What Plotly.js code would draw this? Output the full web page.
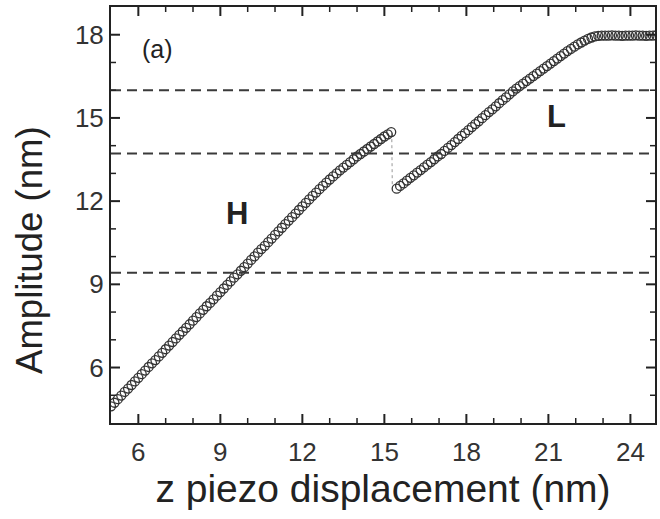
<!DOCTYPE html>
<html>
<head>
<meta charset="utf-8">
<script src="https://cdn.plot.ly/plotly-3.0.1.min.js"></script>
<style>html,body{margin:0;padding:0;background:#fff;}#chart{width:660px;height:519px;}</style>
</head>
<body>
<div id="chart"></div>
<script>
// High-amplitude branch H
var hX = [5.000,5.125,5.250,5.375,5.500,5.625,5.750,5.875,6.000,6.125,6.250,6.375,6.500,6.625,6.750,6.875,
  7.000,7.125,7.250,7.375,7.500,7.625,7.750,7.875,8.000,8.125,8.250,8.375,8.500,8.625,8.750,8.875,
  9.000,9.125,9.250,9.375,9.500,9.625,9.750,9.875,10.000,10.125,10.250,10.375,10.500,10.625,10.750,10.875,
  11.000,11.125,11.250,11.375,11.500,11.625,11.750,11.875,12.000,12.125,12.250,12.375,12.500,12.625,12.750,12.875,
  13.000,13.125,13.250,13.375,13.500,13.625,13.750,13.875,14.000,14.125,14.250,14.375,14.500,14.625,14.750,14.875,
  15.000,15.125,15.250];
var hY = [4.60,4.73,4.86,4.99,5.12,5.24,5.37,5.50,5.63,5.76,5.89,6.02,6.15,6.27,6.40,6.53,
  6.66,6.79,6.92,7.05,7.18,7.30,7.43,7.56,7.69,7.82,7.95,8.08,8.21,8.33,8.46,8.59,
  8.72,8.85,8.98,9.11,9.24,9.36,9.49,9.62,9.75,9.88,10.01,10.14,10.27,10.39,10.52,10.65,
  10.78,10.91,11.04,11.17,11.30,11.42,11.55,11.68,11.81,11.94,12.06,12.19,12.31,12.43,12.55,12.67,
  12.78,12.89,13.00,13.11,13.21,13.31,13.41,13.51,13.61,13.70,13.79,13.88,13.97,14.06,14.15,14.24,
  14.33,14.41,14.49];
// Low-amplitude branch L (incl. saturation plateau)
var lX = [15.450,15.575,15.700,15.825,15.950,16.075,16.200,16.325,16.450,16.575,16.700,16.825,16.950,17.075,17.200,
  17.325,17.450,17.575,17.700,17.825,17.950,18.075,18.200,18.325,18.450,18.575,18.700,18.825,18.950,19.075,19.200,
  19.325,19.450,19.575,19.700,19.825,19.950,20.075,20.200,20.325,20.450,20.575,20.700,20.825,20.950,21.075,21.200,
  21.325,21.450,21.575,21.700,21.825,21.950,22.075,22.200,22.325,22.450,22.575,22.700,22.825,22.950,23.075,23.200,
  23.325,23.450,23.575,23.700,23.825,23.950,24.075,24.200,24.325,24.450,24.575,24.700,24.825,24.950];
var lY = [12.45,12.55,12.64,12.74,12.84,12.93,13.03,13.12,13.22,13.32,13.41,13.51,13.61,13.70,13.81,
  13.92,14.02,14.13,14.24,14.35,14.45,14.56,14.67,14.78,14.88,14.99,15.10,15.21,15.31,15.42,15.53,
  15.64,15.74,15.85,15.96,16.06,16.15,16.24,16.33,16.42,16.51,16.60,16.69,16.78,16.87,16.96,17.05,
  17.14,17.23,17.32,17.41,17.49,17.57,17.65,17.72,17.79,17.85,17.90,17.94,17.96,17.97,17.97,17.97,
  17.98,17.97,17.97,17.96,17.97,17.97,17.97,17.98,17.97,17.97,17.96,17.97,17.97,17.97];
// Dotted jump connector between the branches
var jumpX = [15.27, 15.29];
var jumpY = [14.45, 12.55];
// Dashed reference amplitude levels
var levels = [16.0, 13.72, 9.42];
// Axis ranges and tick values
var xRange = [5, 24.9], yRange = [4, 19];
var xMajor = [6, 9, 12, 15, 18, 21, 24];
var xMinor = [7, 8, 10, 11, 13, 14, 16, 17, 19, 20, 22, 23];
var yMajor = [6, 9, 12, 15, 18];
var yMinor = [5, 7, 8, 10, 11, 13, 14, 16, 17];
// Labels
var labels = [
  {text: '(a)', x: 6.7, y: 17.5, bold: false, size: 25},
  {text: 'H', x: 9.6, y: 11.55, bold: true, size: 31},
  {text: 'L', x: 21.3, y: 15.05, bold: true, size: 31}
];
var xTitle = 'z piezo displacement (nm)';
var yTitle = 'Amplitude (nm)';

var FONT = 'Liberation Sans, Arial, sans-serif';
var markerStyle = {symbol: 'circle-open', size: 9, color: '#333', line: {width: 1.3, color: '#333'}};
var traces = [
  {x: jumpX, y: jumpY, mode: 'lines', line: {color: '#999', width: 1, dash: 'dot'}, hoverinfo: 'skip'},
  {x: hX, y: hY, mode: 'markers', marker: markerStyle},
  {x: lX, y: lY, mode: 'markers', marker: markerStyle}
];

var shapes = levels.map(function (v) {
  return {type: 'line', xref: 'paper', x0: 0, x1: 1, yref: 'y', y0: v, y1: v,
    line: {color: '#3a3a3a', width: 2, dash: '10px,6px'}};
});

// Inside ticks on all four sides (positioned by the axis scales, length in pixels)
function xTickShapes(vals, len, w) {
  var out = [];
  vals.forEach(function (v) {
    [[0, len], [1, -len]].forEach(function (s) {
      out.push({type: 'line', xref: 'x', x0: v, x1: v, yref: 'paper', ysizemode: 'pixel', yanchor: s[0],
        y0: 0, y1: s[1], line: {color: '#222', width: w}});
    });
  });
  return out;
}
function yTickShapes(vals, len, w) {
  var out = [];
  vals.forEach(function (v) {
    [[0, len], [1, -len]].forEach(function (s) {
      out.push({type: 'line', yref: 'y', y0: v, y1: v, xref: 'paper', xsizemode: 'pixel', xanchor: s[0],
        x0: 0, x1: s[1], line: {color: '#222', width: w}});
    });
  });
  return out;
}
shapes = shapes.concat(xTickShapes(xMajor, 9, 2), xTickShapes(xMinor, 5, 1.5),
  yTickShapes(yMajor, 9, 2), yTickShapes(yMinor, 5, 1.5));

var annotations = labels.map(function (a) {
  return {text: a.bold ? '<b>' + a.text + '</b>' : a.text, x: a.x, y: a.y, xref: 'x', yref: 'y',
    showarrow: false, font: {family: FONT, size: a.size, color: '#222'}};
});
annotations.push({text: yTitle, textangle: -90, xref: 'paper', yref: 'paper', x: -0.149, y: 0.416,
  xanchor: 'center', yanchor: 'middle', showarrow: false, font: {family: FONT, size: 36.5, color: '#222'}});

var axisFont = {family: FONT, size: 26, color: '#333'};
function axis(range, vals) {
  return {
    range: range, tickmode: 'array', tickvals: vals, ticks: '',
    showline: true, linecolor: '#222', linewidth: 2, mirror: true, showgrid: false, zeroline: false,
    tickfont: axisFont
  };
}
var xaxis = axis(xRange, xMajor);
xaxis.ticklabelstandoff = 5;
xaxis.title = {text: xTitle, font: {family: FONT, size: 39, color: '#222'}, standoff: 6};
var yaxis = axis(yRange, yMajor);

var layout = {
  width: 660, height: 519,
  margin: {l: 111, r: 5, t: 7, b: 96},
  paper_bgcolor: '#fff', plot_bgcolor: '#fff',
  showlegend: false,
  xaxis: xaxis,
  yaxis: yaxis,
  shapes: shapes,
  annotations: annotations
};

Plotly.newPlot('chart', traces, layout, {displayModeBar: false, staticPlot: true});
</script>
</body>
</html>
